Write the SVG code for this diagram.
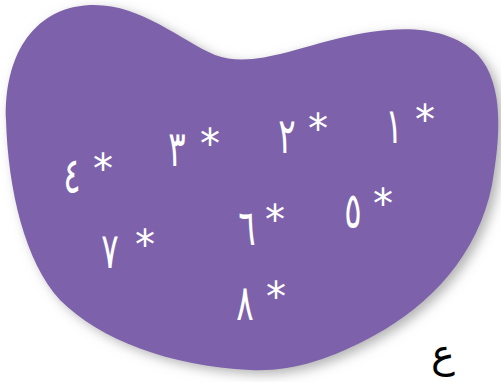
<svg xmlns="http://www.w3.org/2000/svg" width="501" height="382" viewBox="0 0 501 382">
<defs>
<filter id="sh" x="-10%" y="-10%" width="125%" height="125%">
<feDropShadow dx="5" dy="4" stdDeviation="6" flood-color="#808080" flood-opacity="0.6"/>
</filter>
<style>
.d{font-family:"DejaVu Sans",sans-serif;font-size:50px;fill:#fff;text-anchor:middle}
.s{font-family:"DejaVu Sans",sans-serif;font-size:40px;fill:#fff;text-anchor:middle}
.l{font-family:"DejaVu Sans",sans-serif;font-size:40px;fill:#000;text-anchor:middle}
</style>
</defs>
<rect width="501" height="382" fill="#fff"/>
<g id="blob">
<path filter="url(#sh)" fill="#7D62AB" d="M 6,120 C 4,60 30,8 90,5 C 140,3 180,40 215,55 C 250,68 290,50 340,38 C 390,26 445,22 478,55 C 505,85 500,140 492,185 C 478,255 430,305 375,335 C 330,360 290,372 250,370 C 170,366 100,340 60,300 C 25,262 8,190 6,120 Z"/>
</g>
<g id="item1"><text class="d" transform="translate(394,143) scale(0.65,1)">١</text><text class="s" x="425" y="134">*</text></g>
<g id="item2"><text class="d" transform="translate(287,153) scale(0.65,1)">٢</text><text class="s" x="318" y="143">*</text></g>
<g id="item3"><text class="d" transform="translate(177,166) scale(0.65,1)">٣</text><text class="s" x="210" y="158">*</text></g>
<g id="item4"><text class="d" transform="translate(72,193) scale(0.65,1)">٤</text><text class="s" x="103" y="183">*</text></g>
<g id="item5"><text class="d" transform="translate(353,228) scale(0.65,1)">٥</text><text class="s" x="383" y="218">*</text></g>
<g id="item6"><text class="d" transform="translate(247,245) scale(0.65,1)">٦</text><text class="s" x="275" y="234">*</text></g>
<g id="item7"><text class="d" transform="translate(110,268) scale(0.65,1)">٧</text><text class="s" x="145" y="259">*</text></g>
<g id="item8"><text class="d" transform="translate(245,320) scale(0.65,1)">٨</text><text class="s" x="276" y="311">*</text></g>
<g id="label"><text class="l" x="443" y="367">ع</text></g>
</svg>
